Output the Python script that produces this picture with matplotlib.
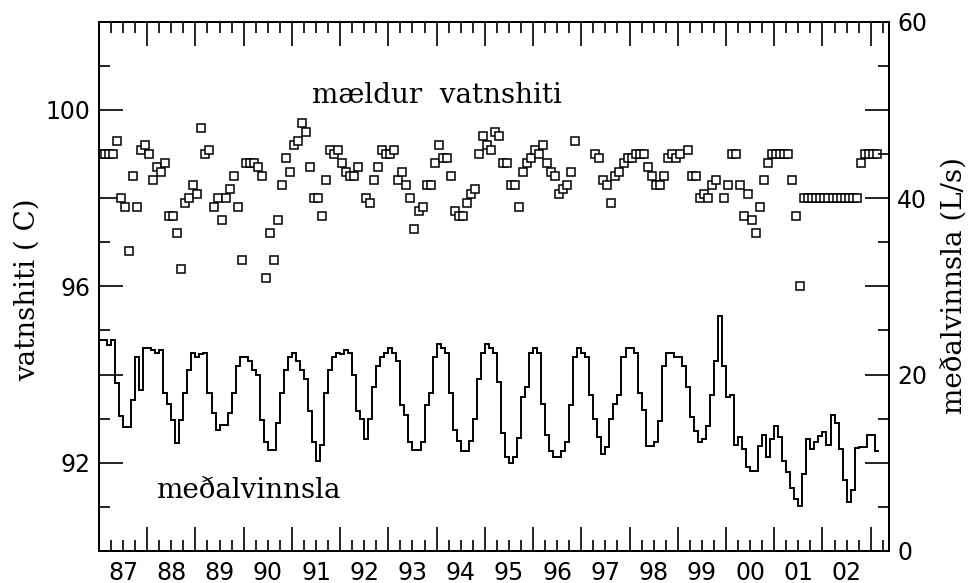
import numpy as np
import matplotlib.pyplot as plt
from matplotlib.ticker import MultipleLocator, FuncFormatter

# monthly water temperature (C), first value = Jan 1987, None = not measured
temp = [
    99.0, 99.0, 99.0, 99.0, 99.3, 98.0, 97.8, 96.8, 98.5, 97.8, 99.1, 99.2,
    99.0, 98.4, 98.7, 98.6, 98.8, 97.6, 97.6, 97.2, 96.4, 97.9, 98.0, 98.3,
    98.1, 99.6, 99.0, 99.1, 97.8, 98.0, 97.5, 98.0, 98.2, 98.5, 97.8, 96.6,
    98.8, 98.8, 98.8, 98.7, 98.5, 96.2, 97.2, 96.6, 97.5, 98.3, 98.9, 98.6,
    99.2, 99.3, 99.7, 99.5, 98.7, 98.0, 98.0, 97.6, 98.4, 99.1, 99.0, 99.1,
    98.8, 98.6, 98.5, 98.5, 98.7, None, 98.0, 97.9, 98.4, 98.7, 99.1, 99.0,
    99.0, 99.1, 98.4, 98.6, 98.3, 98.0, 97.3, 97.7, 97.8, 98.3, 98.3, 98.8,
    99.2, 98.9, 98.9, 98.5, 97.7, 97.6, 97.6, 97.9, 98.1, 98.2, 99.0, 99.4,
    99.2, 99.1, 99.5, 99.4, 98.8, 98.8, 98.3, 98.3, 97.8, 98.6, 98.8, 98.9,
    99.1, 99.0, 99.2, 98.8, 98.6, 98.5, 98.1, 98.2, 98.3, 98.6, 99.3, None,
    None, None, None, 99.0, 98.9, 98.4, 98.3, 97.9, 98.5, 98.6, 98.8, 98.9,
    98.9, 99.0, 99.0, 99.0, 98.7, 98.5, 98.3, 98.3, 98.5, 98.9, 99.0, 98.9,
    99.0, None, 99.1, 98.5, 98.5, 98.0, 98.1, 98.0, 98.3, 98.4, None, 98.0,
    98.3, 99.0, 99.0, 98.3, 97.6, 98.1, 97.5, 97.2, 97.8, 98.4, 98.8, 99.0,
    99.0, 99.0, 99.0, 99.0, 98.4, 97.6, 96.0, 98.0, 98.0, 98.0, 98.0, 98.0,
    98.0, 98.0, 98.0, 98.0, 98.0, 98.0, 98.0, 98.0, 98.0, 98.8, 99.0, 99.0,
    99.0, 99.0,
]

# monthly mean production (L/s), first value = Jan 1987
flow = [
    23.9, 23.9, 23.4, 23.9, 19.0, 15.3, 14.0, 14.0, 17.1, 22.0, 18.3, 23.0,
    23.0, 22.8, 22.5, 22.8, 17.9, 16.7, 14.8, 12.2, 14.8, 17.9, 20.5, 22.5,
    22.0, 22.3, 22.5, 17.9, 15.6, 13.7, 14.3, 14.3, 15.6, 17.9, 21.0, 22.0,
    22.0, 21.5, 20.5, 20.0, 14.8, 12.4, 11.4, 11.4, 14.5, 17.9, 20.5, 22.0,
    22.5, 21.5, 20.5, 19.5, 15.9, 12.4, 10.2, 12.0, 17.9, 20.5, 22.0, 22.5,
    22.3, 22.8, 22.5, 20.0, 15.9, 15.0, 12.7, 15.0, 18.6, 21.0, 22.0, 22.5,
    23.0, 22.5, 21.5, 16.6, 15.4, 12.3, 11.4, 11.4, 12.3, 16.6, 17.9, 22.0,
    23.5, 23.0, 22.5, 17.9, 13.7, 12.5, 11.3, 11.3, 12.5, 15.0, 19.5, 22.5,
    23.5, 23.0, 22.5, 19.2, 13.4, 10.7, 10.0, 10.7, 12.8, 17.5, 18.6, 22.5,
    23.0, 22.5, 16.7, 13.1, 11.3, 10.6, 10.6, 11.3, 12.4, 16.6, 22.0, 23.0,
    22.5, 22.0, 17.7, 15.0, 12.9, 11.0, 11.8, 15.0, 16.7, 17.7, 22.0, 23.0,
    23.0, 22.5, 17.9, 16.0, 11.9, 11.9, 12.4, 14.7, 21.0, 22.5, 22.5, 22.0,
    22.0, 21.0, 18.6, 15.2, 13.6, 12.4, 12.7, 14.2, 17.7, 21.5, 26.6, 21.0,
    17.5, 17.7, 12.0, 12.9, 11.6, 9.5, 9.1, 9.1, 11.9, 13.1, 10.6, 12.7,
    14.2, 12.9, 10.2, 8.9, 7.1, 5.9, 5.1, 8.7, 12.7, 11.6, 12.4, 13.0,
    13.5, 12.0, 15.4, 14.5, 11.6, 8.0, 5.6, 6.9, 11.7, 11.8, 11.8, 13.1,
    13.1, 11.3,
]

year_labels = ['87', '88', '89', '90', '91', '92', '93', '94',
               '95', '96', '97', '98', '99', '00', '01', '02']

t0 = 1987.0
temp_x = t0 + (np.arange(len(temp)) + 0.5) / 12
temp_y = np.array([np.nan if v is None else v for v in temp])
flow_edges = t0 + np.arange(len(flow) + 1) / 12

fig = plt.figure(figsize=(9.73, 5.83), dpi=100)
ax = fig.add_axes([0.1017, 0.0549, 0.8120, 0.9079])
ax2 = ax.twinx()

ax.plot(temp_x, temp_y, 's', ms=5.6, mfc='white', mec='black', mew=1.1)
ax2.stairs(flow, flow_edges, baseline=None, color='black', lw=1.4)

ax.set_xlim(t0, 2003.38)
ax.set_ylim(90, 102)
ax2.set_ylim(0, 60)

# x axis: long ticks at year starts, short ticks every quarter, labels mid-year
ax.xaxis.set_major_locator(MultipleLocator(1))
ax.xaxis.set_minor_locator(MultipleLocator(0.25))
ax.tick_params(axis='x', which='both', direction='in', top=True,
               labelbottom=False, width=1.2)
ax.tick_params(axis='x', which='major', length=17)
ax.tick_params(axis='x', which='minor', length=8)

sec = ax.secondary_xaxis('bottom')
sec.set_xticks(t0 + 0.5 + np.arange(len(year_labels)), year_labels)
sec.tick_params(length=0, pad=7, labelsize=17)
sec.spines['bottom'].set_visible(False)

ax.yaxis.set_major_locator(MultipleLocator(2))
ax.yaxis.set_minor_locator(MultipleLocator(1))
ax.yaxis.set_major_formatter(FuncFormatter(lambda v, p: f'{v:.0f}' if v % 4 == 0 else ''))
ax.tick_params(axis='y', which='both', direction='in', width=1.2, labelsize=17, pad=6)
ax.tick_params(axis='y', which='major', length=17)
ax.tick_params(axis='y', which='minor', length=8)

ax2.yaxis.set_major_locator(MultipleLocator(10))
ax2.yaxis.set_minor_locator(MultipleLocator(5))
ax2.yaxis.set_major_formatter(FuncFormatter(lambda v, p: f'{v:.0f}' if v % 20 == 0 else ''))
ax2.tick_params(axis='y', which='both', direction='in', width=1.2, labelsize=17, pad=6)
ax2.tick_params(axis='y', which='major', length=17)
ax2.tick_params(axis='y', which='minor', length=8)

for a in (ax, ax2):
    for s in a.spines.values():
        s.set_linewidth(1.4)

ax.text(1994.0, 100.32, 'mældur  vatnshiti', ha='center', va='center',
        family='DejaVu Serif', size=20)
ax.text(1990.1, 91.38, 'meðalvinnsla', ha='center', va='center',
        family='DejaVu Serif', size=20)

fig.text(27 / 973, 1 - 290 / 583, 'vatnshiti ( C)', rotation=90,
         ha='center', va='center', family='DejaVu Serif', size=20)
fig.text(954 / 973, 1 - 285 / 583, 'meðalvinnsla (L/s)', rotation=90,
         ha='center', va='center', family='DejaVu Serif', size=20)

fig.savefig('out.png', dpi=100)
